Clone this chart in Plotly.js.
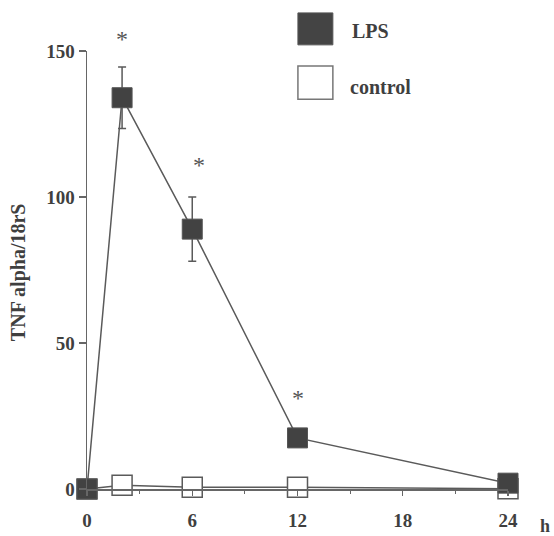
<!DOCTYPE html>
<html>
<head>
<meta charset="utf-8">
<script src="https://cdn.plot.ly/plotly-3.0.1.min.js"></script>
<style>html,body{margin:0;padding:0;background:#fff}#chart{width:554px;height:536px}</style>
</head>
<body>
<div id="chart"></div>
<script>
const hoursLPS = [0, 2, 6, 12, 24];
const lpsValues = [0, 134, 89, 17.5, 2];
const lpsErrors = [0, 10.5, 11, 0, 0];
const hoursControl = [0, 2, 6, 12, 24];
const controlValues = [0, 1.3, 0.6, 0.6, 0.1];
const starHours = [2, 6.4, 12];
const starValues = [154, 111, 31];
const xTicks = [0, 6, 12, 18, 24];
const yTicks = [0, 50, 100, 150];

const fam = 'Liberation Serif, Times New Roman, serif';
const txtCol = '#3f3f3f';
const lineCol = '#5a5a5a';
const yRange = [0, 150];

const traces = [
  {
    x: hoursControl, y: controlValues, type: 'scatter', mode: 'lines+markers',
    line: {color: lineCol, width: 1.5},
    marker: {symbol: 'square', size: 20, color: '#fff', line: {color: lineCol, width: 1.5}},
    cliponaxis: false, showlegend: false, name: 'control'
  },
  {
    x: hoursLPS, y: lpsValues, type: 'scatter', mode: 'lines+markers',
    line: {color: lineCol, width: 1.5},
    marker: {symbol: 'square', size: 20, color: '#424242', line: {color: '#555', width: 1}},
    error_y: {type: 'data', array: lpsErrors, visible: true, color: lineCol, thickness: 1.5, width: 4},
    cliponaxis: false, showlegend: false, name: 'LPS'
  }
];

const stars = starHours.map((h, i) => ({
  text: '*', xref: 'x', yref: 'paper', x: h, y: (starValues[i] - yRange[0]) / (yRange[1] - yRange[0]),
  xanchor: 'center', yanchor: 'middle',
  showarrow: false, font: {family: fam, size: 24, color: '#555'}
}));

const layout = {
  width: 554, height: 536,
  margin: {l: 87, r: 46, t: 51, b: 47},
  paper_bgcolor: '#fff', plot_bgcolor: '#fff',
  font: {family: fam, size: 19, color: txtCol},
  showlegend: false,
  xaxis: {
    range: [0, 24], tickvals: xTicks, ticktext: xTicks.map(String),
    showgrid: false, zeroline: false, showline: true, linecolor: '#666', linewidth: 1.5,
    ticks: 'outside', ticklen: 5, tickcolor: '#666', tickwidth: 1.2,
    minor: {dtick: 3, tick0: 0, ticks: 'outside', ticklen: 3, tickcolor: '#666'},
    ticklabelstandoff: 9,
    tickfont: {family: fam, size: 19, color: txtCol, weight: 'bold'}
  },
  yaxis: {
    range: yRange, tickvals: yTicks, ticktext: yTicks.map(String),
    showgrid: false, zeroline: false, showline: true, linecolor: '#666', linewidth: 1.5,
    ticks: 'outside', ticklen: 7, tickcolor: '#666', tickwidth: 1.2,
    tickfont: {family: fam, size: 19, color: txtCol, weight: 'bold'}
  },
  shapes: [
    {type: 'rect', xref: 'paper', yref: 'paper', x0: 0.501, x1: 0.584, y0: 1.014, y1: 1.087,
     fillcolor: '#444', line: {color: '#555', width: 1}},
    {type: 'rect', xref: 'paper', yref: 'paper', x0: 0.501, x1: 0.584, y0: 0.890, y1: 0.966,
     fillcolor: '#fff', line: {color: '#777', width: 1.5}}
  ],
  annotations: stars.concat([
    {text: '<b>LPS</b>', xref: 'paper', yref: 'paper', x: 0.624, y: 1.045, xanchor: 'left', yanchor: 'middle',
     showarrow: false, font: {family: fam, size: 20, color: txtCol}},
    {text: '<b>control</b>', xref: 'paper', yref: 'paper', x: 0.620, y: 0.918, xanchor: 'left', yanchor: 'middle',
     showarrow: false, font: {family: fam, size: 20, color: txtCol}},
    {text: '<b>h</b>', xref: 'paper', yref: 'paper', x: 1.088, y: -0.084, xanchor: 'center', yanchor: 'middle',
     showarrow: false, font: {family: fam, size: 18, color: txtCol}},
    {text: '<b>TNF alpha/18rS</b>', xref: 'paper', yref: 'paper', x: -0.164, y: 0.495, xanchor: 'center', yanchor: 'middle',
     textangle: -90, showarrow: false, font: {family: fam, size: 20, color: txtCol}}
  ])
};

Plotly.newPlot('chart', traces, layout, {displayModeBar: false, staticPlot: true});
</script>
</body>
</html>
